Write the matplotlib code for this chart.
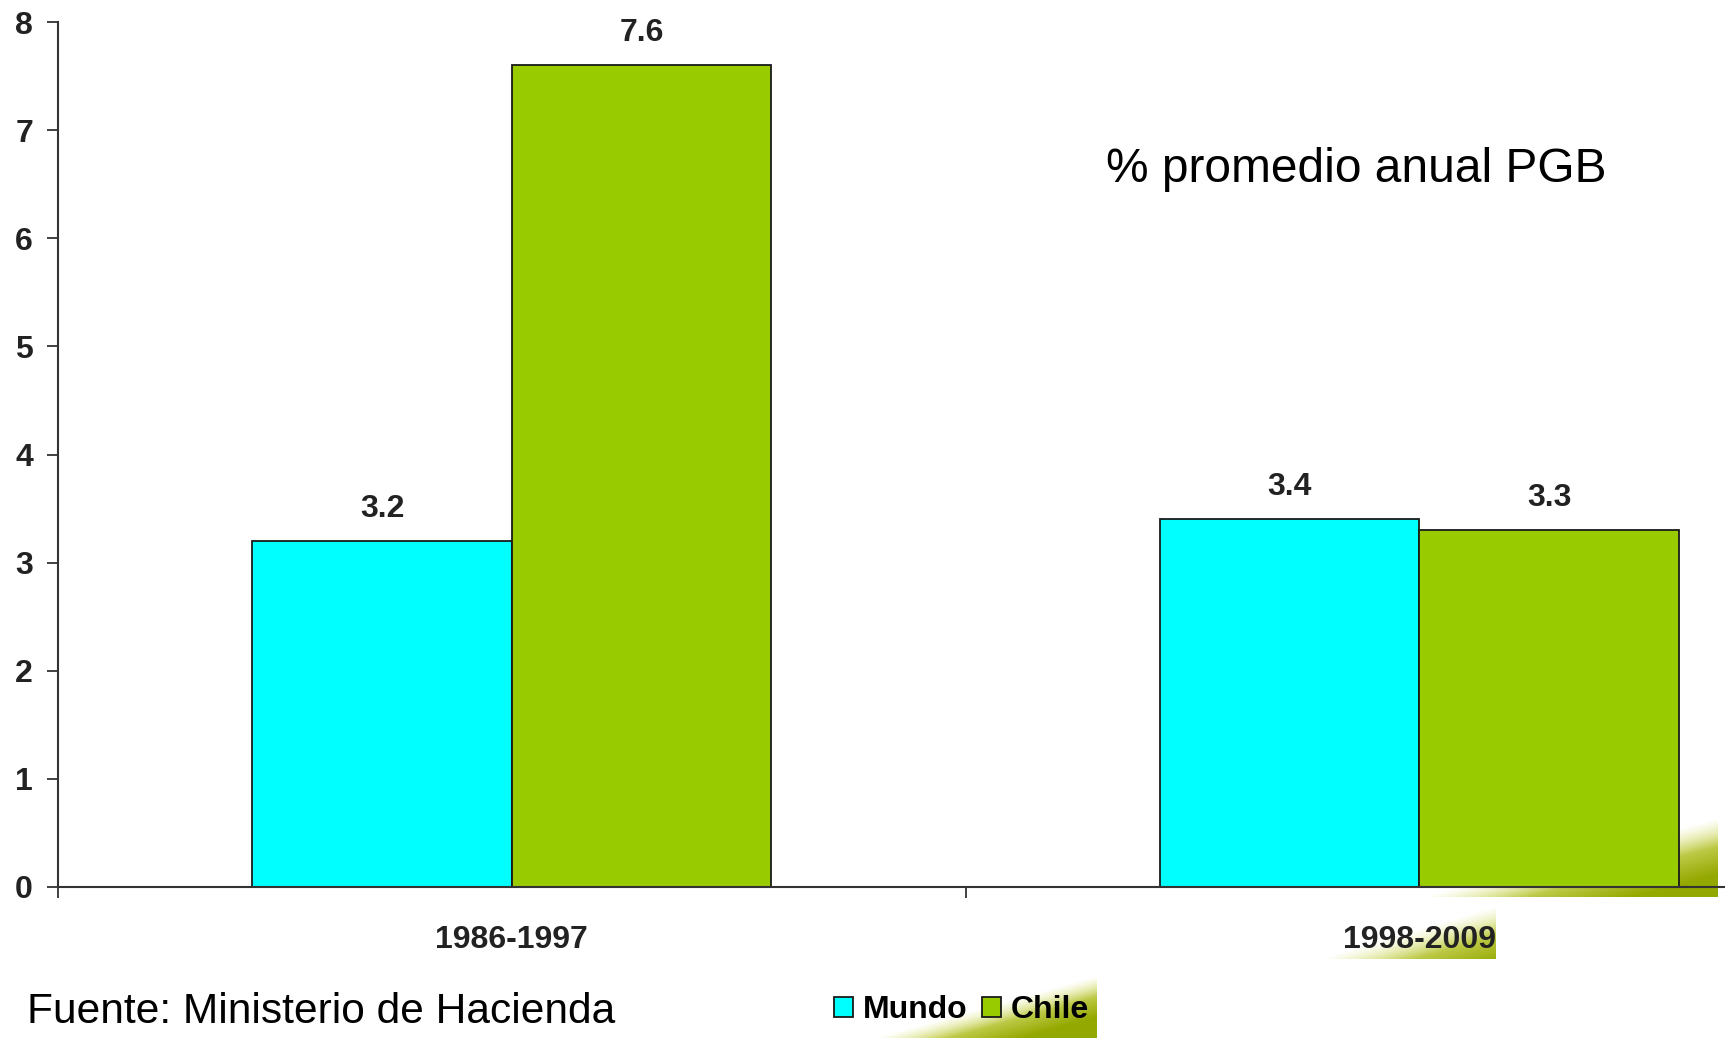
import numpy as np
import matplotlib
matplotlib.use("Agg")
import matplotlib.pyplot as plt
from matplotlib.patches import Patch

plt.rcParams['font.family'] = ['Liberation Sans', 'DejaVu Sans']

periodos = ['1986-1997', '1998-2009']
mundo = [3.2, 3.4]
chile = [7.6, 3.3]
series = ['Mundo', 'Chile']
colores = ['#00FFFF', '#99CC00']
yticks = [0, 1, 2, 3, 4, 5, 6, 7, 8]

W, H = 1725, 1038
fig = plt.figure(figsize=(W / 100, H / 100), dpi=100)

# background layer in pixel coordinates for the green slide swooshes
bg = fig.add_axes([0, 0, 1, 1], zorder=0)
bg.set_xlim(0, W)
bg.set_ylim(H, 0)
bg.axis('off')


def swoosh(x0, x1, y0, y1, p, q, width, amax=1.0):
    # green ramp on the lower-right side of the line p->q, inside the box
    xs = np.linspace(x0, x1, 240)
    ys = np.linspace(y0, y1, 140)
    X, Y = np.meshgrid(xs, ys)
    dx, dy = q[0] - p[0], q[1] - p[1]
    n = np.hypot(dx, dy)
    d = ((X - p[0]) * dy - (Y - p[1]) * dx) / n
    a = np.clip(-d / width, 0, 1) * amax
    img = np.zeros(X.shape + (4,))
    img[..., 0] = 0.58 + 0.32 * (1 - a)
    img[..., 1] = 0.66 + 0.26 * (1 - a)
    img[..., 2] = 0.0 + 0.55 * (1 - a)
    img[..., 3] = np.clip(a * 2.0, 0, 1)
    bg.imshow(img, extent=(x0, x1, y1, y0), aspect='auto', interpolation='bilinear')


swoosh(1400, 1718, 800, 897, (1400, 903), (1718, 818), 55)
swoosh(1276, 1496, 904, 959, (1290, 968), (1500, 905), 55)
swoosh(803, 1097, 968, 1038, (850, 1045), (1100, 975), 40)

ax = fig.add_axes([58 / W, 1 - 887 / H, (1873 - 58) / W, 865 / H], zorder=1)
ax.patch.set_alpha(0)

x = np.arange(len(periodos))
bw = 0.286
b1 = ax.bar(x - bw / 2, mundo, bw, color=colores[0], edgecolor='#1a1a1a', linewidth=1.3, label=series[0])
b2 = ax.bar(x + bw / 2, chile, bw, color=colores[1], edgecolor='#1a1a1a', linewidth=1.3, label=series[1])

for bars, vals in [(b1, mundo), (b2, chile)]:
    for r, v in zip(bars, vals):
        ax.annotate(f'{v:.1f}', (r.get_x() + r.get_width() / 2, v), xytext=(0, 23),
                    textcoords='offset points', ha='center', va='center',
                    fontsize=23, fontweight='bold', color='#222222')

ax.set_xlim(-0.5, 1.5)
ax.set_ylim(0, 8)
ax.set_yticks(yticks)
ax.set_yticklabels([str(t) for t in yticks], fontsize=23, fontweight='bold', color='#222222')
ax.set_xticks(x)
ax.set_xticklabels(periodos, fontsize=23, fontweight='bold', color='#222222')
ax.set_xticks([-0.5, 0.5, 1.5], minor=True)
ax.tick_params(axis='x', which='major', length=0, pad=27)
ax.tick_params(axis='x', which='minor', length=8, width=1.3, color='#333333', direction='out')
ax.tick_params(axis='y', length=8, width=1.3, color='#333333', pad=10)

for s in ['top', 'right']:
    ax.spines[s].set_visible(False)
for s in ['left', 'bottom']:
    ax.spines[s].set_color('#333333')
    ax.spines[s].set_linewidth(1.5)

fig.text(1106 / W, 1 - 170 / H, '% promedio anual PGB', fontsize=34.5, ha='left', va='center', color='black', zorder=3)
fig.text(27 / W, 1 - 1012 / H, 'Fuente: Ministerio de Hacienda', fontsize=30.6, ha='left', va='center', color='black', zorder=3)

handles = [Patch(facecolor=c, edgecolor='#1a1a1a', linewidth=1.3) for c in colores]
leg = fig.legend(handles, series, loc='center left', bbox_to_anchor=(818 / W, 1 - 1010 / H),
                 ncol=2, frameon=False, borderpad=0, handlelength=0.6, handleheight=0.6,
                 handletextpad=0.3, columnspacing=0.45,
                 prop={'size': 23, 'weight': 'bold'})
leg.set_zorder(3)

fig.savefig('out.png', dpi=100)
